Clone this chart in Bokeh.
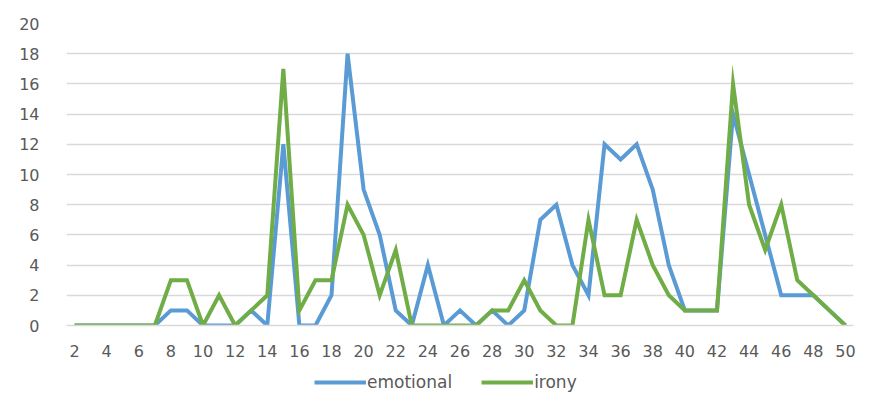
from bokeh.plotting import figure
from bokeh.layouts import column
from bokeh.models import Range1d, FixedTicker, Legend, LegendItem
from bokeh.embed import file_html
from bokeh.resources import INLINE

x_vals = list(range(2, 51))
emotional = [0, 0, 0, 0, 0, 0, 1, 1, 0, 0, 0, 1, 0, 12, 0, 0, 2, 18, 9, 6,
             1, 0, 4, 0, 1, 0, 1, 0, 1, 7, 8, 4, 2, 12, 11, 12, 9, 4, 1, 1,
             1, 14, 10, 6, 2, 2, 2, 1, 0]
irony = [0, 0, 0, 0, 0, 0, 3, 3, 0, 2, 0, 1, 2, 17, 1, 3, 3, 8, 6, 2,
         5, 0, 0, 0, 0, 0, 1, 1, 3, 1, 0, 0, 7, 2, 2, 7, 4, 2, 1, 1,
         1, 16, 8, 5, 8, 3, 2, 1, 0]
series_names = ["emotional", "irony"]
series_colors = ["#5B9BD5", "#70AD47"]
x_ticks = list(range(2, 51, 2))
y_ticks = list(range(0, 21, 2))

FONT = "DejaVu Sans"
TXT = "#595959"
FS = "16px"

p = figure(width=864, height=365, output_backend="svg", toolbar_location=None,
           x_range=Range1d(1.5, 50.5), y_range=Range1d(0, 20),
           min_border_left=66, min_border_right=11, min_border_top=23,
           min_border_bottom=40)
p.outline_line_color = None
p.background_fill_color = "white"
p.border_fill_color = "white"

p.line(x_vals, emotional, line_color=series_colors[0], line_width=4, line_join="miter")
p.line(x_vals, irony, line_color=series_colors[1], line_width=4, line_join="miter")

p.xgrid.grid_line_color = None
p.ygrid.grid_line_color = "#d9d9d9"
p.ygrid.grid_line_width = 1.3
p.ygrid.ticker = FixedTicker(ticks=y_ticks)

p.xaxis.ticker = FixedTicker(ticks=x_ticks)
p.xaxis.axis_line_color = "#d9d9d9"
p.xaxis.axis_line_width = 1.3
p.xaxis.major_tick_line_color = None
p.xaxis.minor_tick_line_color = None
p.xaxis.major_label_standoff = 13
p.xaxis.major_label_text_font = FONT
p.xaxis.major_label_text_font_size = FS
p.xaxis.major_label_text_color = TXT

p.yaxis.ticker = FixedTicker(ticks=y_ticks)
p.yaxis.axis_line_color = None
p.yaxis.major_tick_line_color = None
p.yaxis.minor_tick_line_color = None
p.yaxis.major_label_standoff = 21
p.yaxis.major_label_text_font = FONT
p.yaxis.major_label_text_font_size = FS
p.yaxis.major_label_text_color = TXT

# legend strip below the chart (series drawn out of view, only legend shows)
p2 = figure(width=864, height=37, output_backend="svg", toolbar_location=None,
            x_range=Range1d(1.5, 50.5), y_range=Range1d(-20, -19),
            x_axis_location=None, y_axis_location=None,
            min_border_left=0, min_border_right=0, min_border_top=0,
            min_border_bottom=0)
p2.outline_line_color = None
p2.xgrid.grid_line_color = None
p2.ygrid.grid_line_color = None
items = []
for name, col, vals in zip(series_names, series_colors, [emotional, irony]):
    r = p2.line(x_vals, vals, line_color=col, line_width=4)
    items.append(LegendItem(label=name, renderers=[r]))
legend = Legend(items=items, orientation="horizontal", location=(248, 10),
                label_text_font=FONT, label_text_font_size="17px",
                label_text_color=TXT, glyph_width=52, label_standoff=1,
                spacing=29, border_line_color=None, background_fill_alpha=0,
                margin=0, padding=2)
p2.add_layout(legend, "center")

layout = column(p, p2, spacing=0)
open("out.html", "w").write(file_html(layout, INLINE))
